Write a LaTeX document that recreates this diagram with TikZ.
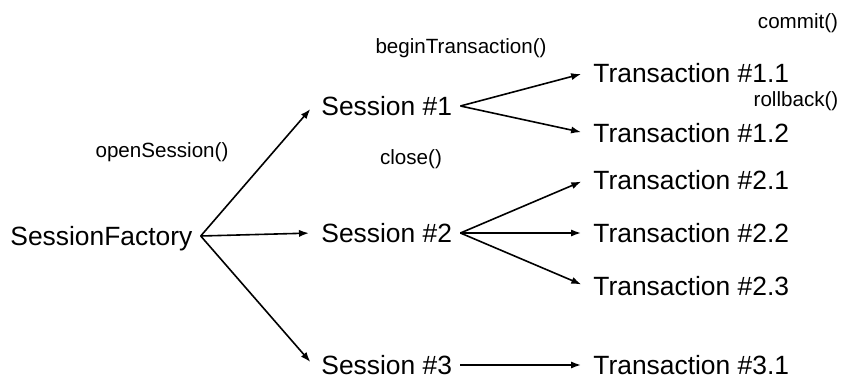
\documentclass[tikz,border=0pt]{standalone}
\usepackage{fontspec}
\setmainfont{Liberation Sans}
\usetikzlibrary{arrows.meta, positioning}

\tikzset{
    item/.style={anchor=west, inner sep=4pt, text depth=0pt, font=\fontsize{13.2}{15}\selectfont},
    call/.style={inner sep=0pt, font=\fontsize{10.3}{12}\selectfont},
    link/.style={line width=0.8pt, -{Latex[length=5pt, width=3.6pt]}, shorten >=2pt}
}

\begin{document}
\begin{tikzpicture}[x=0.5pt, y=-0.5pt]
        \useasboundingbox (0,0) rectangle (844,385);

        % Factory and sessions
        \node [item] (sf) at (2,236) {SessionFactory};
        \node [item] (s1) at (313,106) {Session \#1};
        \node [item] (s2) at (313,233) {Session \#2};
        \node [item] (s3) at (313,365) {Session \#3};

        % Transactions of each session
        \node [item] (t11) at (585,73) {Transaction \#1.1};
        \node [item] (t12) at (585,133) {Transaction \#1.2};
        \node [item] (t21) at (585,180) {Transaction \#2.1};
        \node [item] (t22) at (585,233) {Transaction \#2.2};
        \node [item] (t23) at (585,286) {Transaction \#2.3};
        \node [item] (t31) at (585,365) {Transaction \#3.1};

        % Method calls
        \node [call] (open) at (162,152) {openSession()};
        \node [call] (begin) at (461,48) {beginTransaction()};
        \node [call] (close) at (411,159) {close()};
        \node [call] (commit) at (798,23) {commit()};
        \node [call] (rollback) at (796,101) {rollback()};

        % Arrows from the factory
        \foreach \s in {s1,s2,s3}
        {
        \draw [link] (sf.east) -- (\s.west);
        }

        % Arrows from the sessions
        \foreach \t in {t11,t12}
        {
        \draw [link] (s1.east) -- (\t.west);
        }
        \foreach \t in {t21,t22,t23}
        {
        \draw [link] (s2.east) -- (\t.west);
        }
        \draw [link] (s3.east) -- (t31.west);
    \end{tikzpicture}
\end{document}
